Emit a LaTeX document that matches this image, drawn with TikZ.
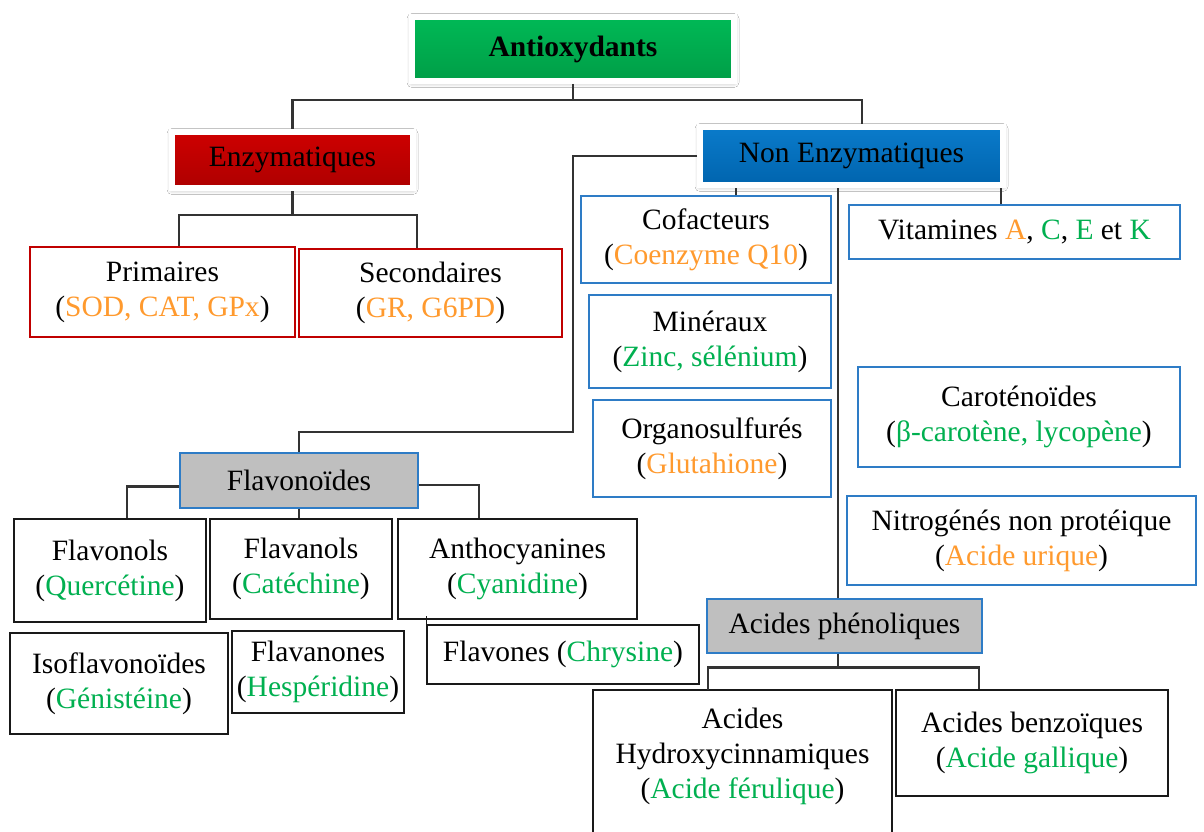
\documentclass[tikz,border=0pt]{standalone}
\usepackage{fontspec}
\setmainfont{Liberation Serif}
\usetikzlibrary{shadows.blur}
\definecolor{orng}{HTML}{FF9A2E}
\definecolor{grn}{HTML}{00B050}
\definecolor{blu}{HTML}{2E7CC6}
\definecolor{rdd}{HTML}{C00000}
\definecolor{gtop}{HTML}{00B956}
\definecolor{gbot}{HTML}{009E47}
\definecolor{btop}{HTML}{0A7BCB}
\definecolor{bbot}{HTML}{0064AE}
\definecolor{rtop}{HTML}{CE0000}
\definecolor{rbot}{HTML}{AE0000}
\newcommand{\orn}[1]{\textcolor{orng}{#1}}
\newcommand{\grt}[1]{\textcolor{grn}{#1}}
\tikzset{
  lbl/.style={align=center, font=\fontsize{29.5}{35}\selectfont, inner sep=0pt, text=black},
  bbox/.style={lbl, draw=black!90, line width=1.5pt},
  rbox/.style={lbl, draw=rdd, line width=1.3pt},
  ubox/.style={lbl, draw=blu, line width=1.3pt},
  gbox/.style={lbl, draw=blu, fill=black!25, line width=1.3pt},
  hdr/.style={lbl, draw=white, line width=6pt,
    blur shadow={shadow xshift=0pt, shadow yshift=-1.5pt, shadow blur radius=5pt, shadow opacity=35}},
  conn/.style={draw=black!80, line width=2.6pt},
}
\begin{document}
\begin{tikzpicture}[x=1pt,y=-1pt]
\fill[white] (0,0) rectangle (1204,832);
\useasboundingbox (0,0) rectangle (1204,832);

% header boxes
\node[hdr, top color=gtop, bottom color=gbot, minimum width=322pt, minimum height=64pt, font=\fontsize{29.5}{35}\selectfont\bfseries] (anti) at (573,49) {Antioxydants};
\node[hdr, top color=rtop, bottom color=rbot, minimum width=241pt, minimum height=56pt] (enz) at (292.5,160) {Enzymatiques};
\node[hdr, top color=btop, bottom color=bbot, minimum width=303pt, minimum height=58pt] (nonenz) at (851.5,156) {Non Enzymatiques};

% enzymatic
\node[rbox, minimum width=265pt, minimum height=90pt] (prim) at (162.5,292) {Primaires\\(\orn{SOD, CAT, GPx})};
\node[rbox, minimum width=263pt, minimum height=88pt] (sec) at (430.5,293) {Secondaires\\(\orn{GR, G6PD})};

% non enzymatic
\node[ubox, minimum width=250pt, minimum height=87pt] (cof) at (706,239.5) {Cofacteurs\\(\orn{Coenzyme Q10})};
\node[ubox, minimum width=331pt, minimum height=54pt] (vit) at (1014.5,232) {Vitamines \orn{A}, \grt{C}, \grt{E} et \grt{K}};
\node[ubox, minimum width=242pt, minimum height=93pt] (min) at (710,341.5) {Minéraux\\(\grt{Zinc, sélénium})};
\node[ubox, minimum width=238pt, minimum height=97pt] (org) at (712,448.5) {Organosulfurés\\(\orn{Glutahione})};
\node[ubox, minimum width=322pt, minimum height=100pt] (car) at (1019,417) {Caroténoïdes\\(\grt{β-carotène, lycopène})};
\node[ubox, minimum width=349pt, minimum height=89pt] (nit) at (1021.5,540.5) {Nitrogénés non protéique\\(\orn{Acide urique})};

% phenolic acids
\node[gbox, minimum width=275pt, minimum height=54pt] (phen) at (844.5,626) {Acides phénoliques};
\node[lbl, minimum width=299pt, minimum height=132pt] (hyd) at (742.5,756) {Acides\\Hydroxycinnamiques\\(\grt{Acide férulique})};
\draw[black!90, line width=1.5pt] (hyd.north west) ++(0,142) -- (hyd.north west) -- (hyd.north east) -- ++(0,142);
\node[bbox, minimum width=272pt, minimum height=106pt] (benz) at (1032,743) {Acides benzoïques\\(\grt{Acide gallique})};

% flavonoids
\node[gbox, minimum width=238pt, minimum height=55pt] (flav) at (299,480.5) {Flavonoïdes};
\node[bbox, minimum width=192pt, minimum height=103pt] (fnol) at (110,570.5) {Flavonols\\(\grt{Quercétine})};
\node[bbox, minimum width=182pt, minimum height=100pt] (fanol) at (301,569) {Flavanols\\(\grt{Catéchine})};
\node[bbox, minimum width=239pt, minimum height=100pt] (antho) at (517.5,569) {Anthocyanines\\(\grt{Cyanidine})};
\node[bbox, minimum width=218pt, minimum height=101pt] (iso) at (119,683.5) {Isoflavonoïdes\\(\grt{Génistéine})};
\node[bbox, minimum width=172pt, minimum height=82pt] (fnone) at (318,672) {Flavanones\\(\grt{Hespéridine})};
\node[bbox, minimum width=272pt, minimum height=59pt] (fvone) at (563,654.5) {Flavones (\grt{Chrysine})};
\draw[black!90, line width=1.5pt] (fvone.north west) -- ++(0,-8);

% connectors
\coordinate (j1) at (573,100);
\coordinate (nzt) at ([xshift=10.5pt]nonenz.north);
\draw[conn] (anti.south) -- (j1);
\draw[conn] (j1) -| (enz.north);
\draw[conn] (j1) -| (nzt);

\coordinate (j2) at (292.5,215);
\draw[conn] (enz.south) -- (j2);
\draw[conn] (j2) -| ([xshift=16.5pt]prim.north);
\draw[conn] (j2) -| ([xshift=-13.5pt]sec.north);

\coordinate (c1) at (573,432);
\draw[conn] (nonenz.west) -| (c1) -| (flav.north);

\draw[conn] ([xshift=30pt]cof.north) -- ([xshift=30pt]cof.north |- nonenz.south);
\draw[conn] ([xshift=-13.5pt]vit.north) -- ([xshift=-13.5pt]vit.north |- nonenz.south);
\draw[conn] ([xshift=-6.5pt]phen.north) -- ([xshift=-6.5pt]phen.north |- nonenz.south);

\draw[conn] ([yshift=-6pt]flav.west) -| ([xshift=17pt]fnol.north);
\draw[conn] ([yshift=-4.5pt]flav.east) -| ([xshift=-38.5pt]antho.north);
\draw[conn] (flav.south) -- (flav.south |- fanol.north);

\coordinate (j4) at ([xshift=-6.5pt,yshift=-14pt]phen.south);
\draw[conn] ([xshift=-6.5pt]phen.south) -- (j4);
\draw[conn] (j4) -| ([xshift=-34.5pt]hyd.north);
\draw[conn] (j4) -| ([xshift=-53pt]benz.north);
\end{tikzpicture}
\end{document}
